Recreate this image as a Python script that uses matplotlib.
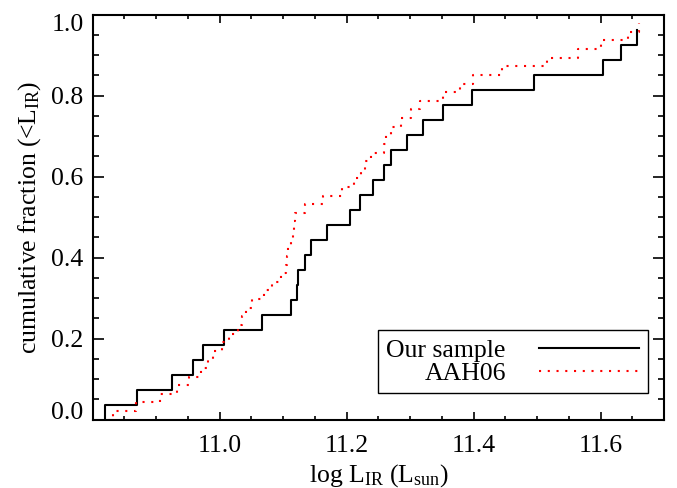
import numpy as np
import matplotlib as mpl
import matplotlib.pyplot as plt
from matplotlib.ticker import MultipleLocator
from matplotlib.legend_handler import HandlerLine2D
from matplotlib.transforms import ScaledTranslation

mpl.rcParams['font.family'] = 'serif'
mpl.rcParams['font.serif'] = ['Liberation Serif', 'DejaVu Serif']
mpl.rcParams['mathtext.fontset'] = 'custom'
mpl.rcParams['mathtext.rm'] = 'Liberation Serif'
mpl.rcParams['mathtext.it'] = 'Liberation Serif:italic'
mpl.rcParams['font.size'] = 18.5
mpl.rcParams['xtick.direction'] = 'in'
mpl.rcParams['ytick.direction'] = 'in'
mpl.rcParams['xtick.top'] = True
mpl.rcParams['ytick.right'] = True

#--------------------------------------------------
# sorted log L_IR values of the two samples
#--------------------------------------------------
our_lir = [10.819, 10.819, 10.870, 10.925, 10.958, 10.974, 11.006, 11.066,
           11.113, 11.121, 11.124, 11.134, 11.143, 11.169, 11.205, 11.221,
           11.242, 11.259, 11.269, 11.295, 11.320, 11.352, 11.398, 11.495,
           11.603, 11.632, 11.658]

aah_lir = [10.824, 10.832, 10.868, 10.906, 10.933, 10.952, 10.971, 10.982,
           10.990, 11.004, 11.014, 11.028, 11.035, 11.042, 11.051, 11.070,
           11.082, 11.096, 11.104, 11.106, 11.108, 11.112, 11.115, 11.117,
           11.119, 11.134, 11.162, 11.193, 11.211, 11.222, 11.229, 11.239,
           11.258, 11.262, 11.269, 11.286, 11.301, 11.316, 11.351, 11.378,
           11.399, 11.445, 11.515, 11.565, 11.601, 11.643, 11.660]

labels = ['Our sample', 'AAH06']
xticks = [11.0, 11.2, 11.4, 11.6]
yticks = [0.0, 0.2, 0.4, 0.6, 0.8, 1.0]

# fraction of sample with L below each value
our_frac = np.arange(len(our_lir)) / len(our_lir)
aah_frac = np.arange(len(aah_lir)) / len(aah_lir)

#--------------------------------------------------
# plot
#--------------------------------------------------
fig = plt.figure(figsize=(6.77, 4.88), dpi=100)
ax = fig.add_axes([0.137, 0.140, 0.844, 0.830])

ax.plot(our_lir, our_frac, drawstyle='steps-post', color='black', lw=1.5,
        label=labels[0])
ax.plot(aah_lir, aah_frac, drawstyle='steps-post', color='red', lw=1.5,
        linestyle=(0, (1, 3.2)), label=labels[1])

ax.set_xlim(10.8, 11.7)
ax.set_ylim(0, 1)
ax.set_xticks(xticks)
ax.set_xticklabels(['%.1f' % t for t in xticks])
ax.set_yticks(yticks)
ax.set_yticklabels(['%.1f' % t for t in yticks])
ax.xaxis.set_minor_locator(MultipleLocator(0.05))
ax.yaxis.set_minor_locator(MultipleLocator(0.05))

for s in ax.spines.values():
    s.set_linewidth(1.5)
ax.tick_params(axis='x', which='major', length=5.5, width=1.2, pad=11)
ax.tick_params(axis='x', which='minor', length=2.8, width=1.2)
ax.tick_params(axis='y', which='major', length=7.7, width=1.2, pad=6.5)
ax.tick_params(axis='y', which='minor', length=4.0, width=1.2)

# IDL style: end labels pushed inside the axis range
ylabs = ax.get_yticklabels()
ylabs[0].set_transform(ylabs[0].get_transform() +
                       ScaledTranslation(0, 0.095, fig.dpi_scale_trans))
ylabs[-1].set_transform(ylabs[-1].get_transform() +
                        ScaledTranslation(0, -0.08, fig.dpi_scale_trans))

ax.set_xlabel(r'log L$_{\rm IR}$ (L$_{\rm sun}$)', labelpad=4)
ax.set_ylabel(r'cumulative fraction (<L$_{\rm IR}$)', labelpad=6)

leg = ax.legend(loc='lower right', bbox_to_anchor=(0.971, 0.0647),
                borderaxespad=0, markerfirst=False, handlelength=4.2,
                handletextpad=0.975, borderpad=0.34, labelspacing=0.0,
                fancybox=False, edgecolor='black', framealpha=1,
                handler_map={ax.lines[0]: HandlerLine2D(xpad=0.315),
                             ax.lines[1]: HandlerLine2D(xpad=0.315)})
leg.get_frame().set_linewidth(1.0)

plt.savefig('out.png', dpi=100)
